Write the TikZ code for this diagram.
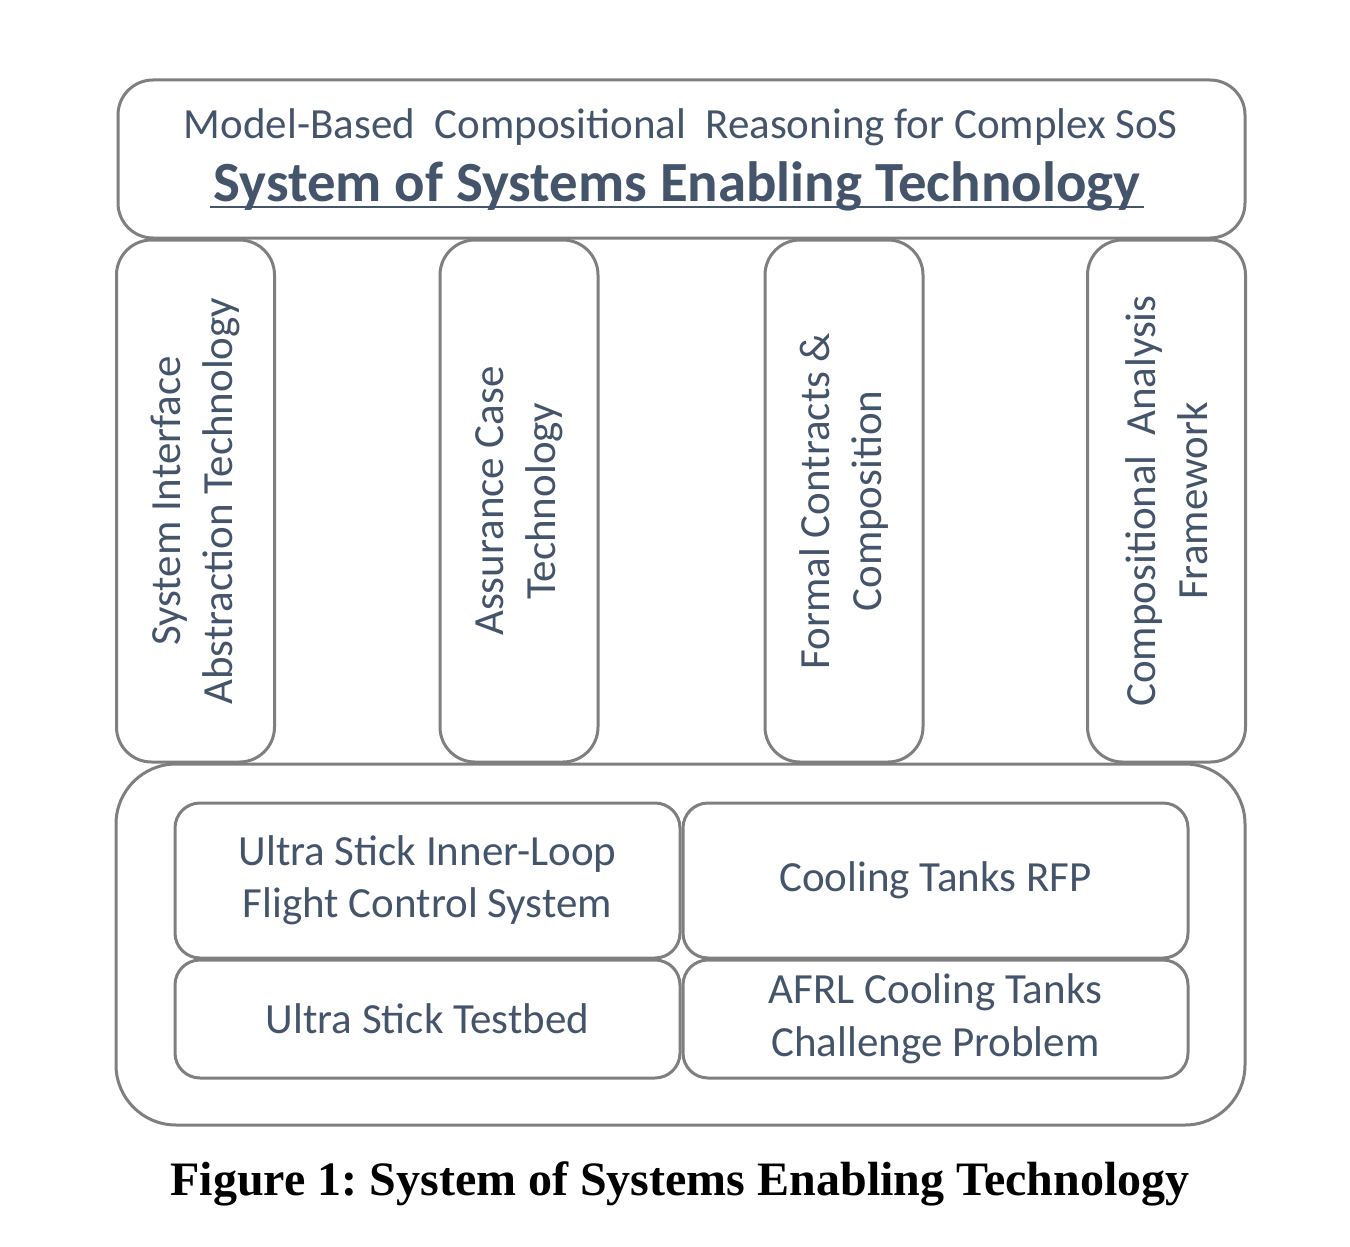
\documentclass[tikz,border=0pt]{standalone}
\usepackage{fontspec}
\setmainfont{Carlito}
\newfontfamily\capfont{Liberation Serif}
\definecolor{txtblue}{HTML}{44546A}
\definecolor{boxgray}{HTML}{7F7F7F}
\begin{document}
\begin{tikzpicture}[x=1pt,y=-1pt,
  box/.style={draw=boxgray, line width=3pt, rounded corners=35pt, text=txtblue, align=center, inner sep=0pt},
  colbox/.style={box, rotate=90, minimum width=522, minimum height=158},
  appbox/.style={box, rounded corners=25pt, minimum width=505},
  lbl/.style={font=\fontsize{43}{52.5}\selectfont}]
\useasboundingbox (0,0) rectangle (1350,1247);

% top layer
\node[box, minimum width=1127, minimum height=158] (top) at (681.5,159) {};
\node[lbl, text=txtblue] (sub) at (681,127) {Model-Based\ \ Compositional\ \ Reasoning\ for\ Complex\ SoS};
\node[text=txtblue, font=\fontsize{56.8}{60}\selectfont\bfseries] (title) at (677,186) {System of Systems Enabling Technology};
\draw[txtblue, line width=2.5pt] ([yshift=-6]title.base west) -- ([yshift=-6]title.base east);

% technology columns
\node[colbox, lbl] (sia) at (195.5,501) {System Interface\\Abstraction Technology};
\node[colbox, lbl] (act) at (519,501) {Assurance Case\\Technology};
\node[colbox, lbl] (fcc) at (844,501) {Formal Contracts \&\\Composition};
\node[colbox, lbl] (caf) at (1166.5,501) {Compositional\ \ Analysis\\Framework};

% application layer
\node[box, rounded corners=60pt, minimum width=1129, minimum height=361] (apps) at (680.5,944.5) {};
\node[appbox, lbl, minimum height=155] (fcs) at (427.5,880.5) {Ultra Stick Inner-Loop\\Flight\ Control\ System};
\node[appbox, lbl, minimum height=155] (rfp) at (935.5,880.5) {Cooling\ Tanks RFP};
\node[appbox, lbl, minimum height=118] (usb) at (427.5,1019) {Ultra Stick Testbed};
\node[appbox, lbl, minimum height=118] (afrl) at (935.5,1019) {AFRL Cooling\ Tanks\\Challenge Problem};

% caption
\node[font=\capfont\bfseries\fontsize{48}{52}\selectfont] (cap) at (680,1184) {\frenchspacing Figure 1: System of Systems Enabling Technology};
\end{tikzpicture}
\end{document}
